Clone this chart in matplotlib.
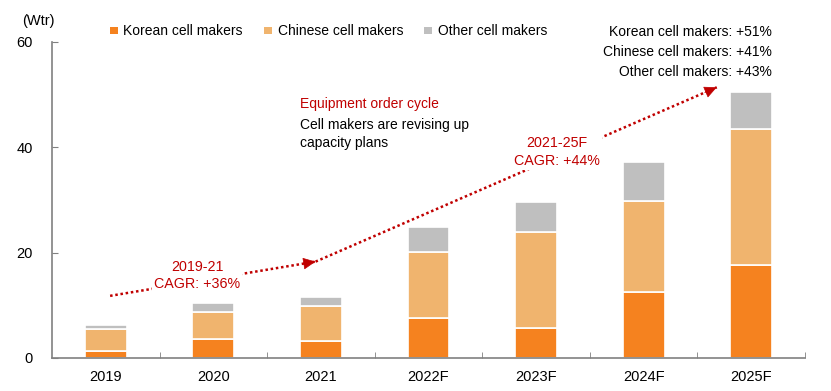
import matplotlib
matplotlib.use("Agg")
import matplotlib.pyplot as plt
import numpy as np
from matplotlib import font_manager

names = {f.name for f in font_manager.fontManager.ttflist}
fam = 'Liberation Sans Narrow' if 'Liberation Sans Narrow' in names else 'Liberation Sans'
plt.rcParams['font.family'] = [fam, 'DejaVu Sans']
fs = 10.0

years = ['2019', '2020', '2021', '2022F', '2023F', '2024F', '2025F']
korean = [1.4, 3.6, 3.2, 7.6, 5.7, 12.5, 17.7]
chinese = [4.1, 5.1, 6.6, 12.5, 18.2, 17.3, 25.8]
other = [0.8, 1.7, 1.8, 4.8, 5.8, 7.5, 7.0]

c_kor = '#F5821F'
c_chn = '#F0B46E'
c_oth = '#BFBFBF'
red = '#C00000'

fig = plt.figure(figsize=(8.31, 3.91), dpi=100)
ax = fig.add_axes([0.0626, 0.0844, 0.9061, 0.8082])

x = np.arange(len(years))
w = 0.39
kor = np.array(korean)
chn = np.array(chinese)
oth = np.array(other)
b1 = ax.bar(x, kor, w, color=c_kor, edgecolor='white', linewidth=1.2, label='Korean cell makers')
b2 = ax.bar(x, chn, w, bottom=kor, color=c_chn, edgecolor='white', linewidth=1.2, label='Chinese cell makers')
b3 = ax.bar(x, oth, w, bottom=kor + chn, color=c_oth, edgecolor='white', linewidth=1.2, label='Other cell makers')

ax.set_xlim(-0.5, 6.5)
ax.set_ylim(0, 60)
ax.set_yticks([0, 20, 40, 60])
ax.set_xticks(x)
ax.set_xticklabels(years)
ax.set_xticks(np.arange(0.5, 7, 1), minor=True)
ax.tick_params(axis='x', which='major', length=0, pad=9, labelsize=fs + 0.5)
ax.tick_params(axis='x', which='minor', direction='in', length=4, color='#808080')
ax.tick_params(axis='y', direction='in', length=4, color='#808080', labelsize=fs + 0.5, pad=14)
for s in ['top', 'right']:
    ax.spines[s].set_visible(False)
for s in ['left', 'bottom']:
    ax.spines[s].set_color('#808080')
    ax.spines[s].set_linewidth(1.2)

fig.text(38 / 831, 1 - 21 / 391, '(Wtr)', ha='center', va='center', fontsize=fs + 0.5)

leg = ax.legend(handles=[b1, b2, b3], loc='center left', bbox_to_anchor=(0.069, 1.034), ncol=3,
                frameon=False, fontsize=fs, handlelength=0.6, handleheight=0.45,
                handletextpad=0.4, columnspacing=1.5, borderaxespad=0)
for h in leg.legend_handles:
    h.set_edgecolor('none')

# CAGR notes on the right
fig.text(772 / 831, 1 - 52 / 391, 'Korean cell makers: +51%\nChinese cell makers: +41%\nOther cell makers: +43%',
         ha='right', va='center', fontsize=fs, linespacing=1.5)

fig.text(300 / 831, 1 - 104 / 391, 'Equipment order cycle', color=red, ha='left', va='center', fontsize=fs)
fig.text(300 / 831, 1 - 134 / 391, 'Cell makers are revising up\ncapacity plans', ha='left', va='center',
         fontsize=fs, linespacing=1.45)

# dotted trend arrows
arrows = [((0.04, 11.8), (1.95, 18.3)), ((1.95, 18.3), (5.68, 51.4))]
for (x0, y0), (x1, y1) in arrows:
    ax.plot([x0, x1], [y0, y1], color=red, lw=1.8, linestyle=(0, (1, 1.1)), dash_capstyle='butt', zorder=2)
    ax.annotate('', xy=(x1, y1), xytext=(x0 + (x1 - x0) * 0.97, y0 + (y1 - y0) * 0.97),
                arrowprops=dict(arrowstyle='-|>,head_length=0.8,head_width=0.38', color=red, lw=0.5,
                                shrinkA=0, shrinkB=0), zorder=2)

ax.text(0.85, 15.7, '2019-21\nCAGR: +36%', color=red, ha='center', va='center', fontsize=fs + 0.3,
        linespacing=1.3, bbox=dict(facecolor='white', edgecolor='none', pad=1.5), zorder=4)
ax.text(4.19, 39.1, '2021-25F\nCAGR: +44%', color=red, ha='center', va='center', fontsize=fs + 0.3,
        linespacing=1.3, bbox=dict(facecolor='white', edgecolor='none', pad=1.5), zorder=4)

fig.savefig('out.png', dpi=100)
